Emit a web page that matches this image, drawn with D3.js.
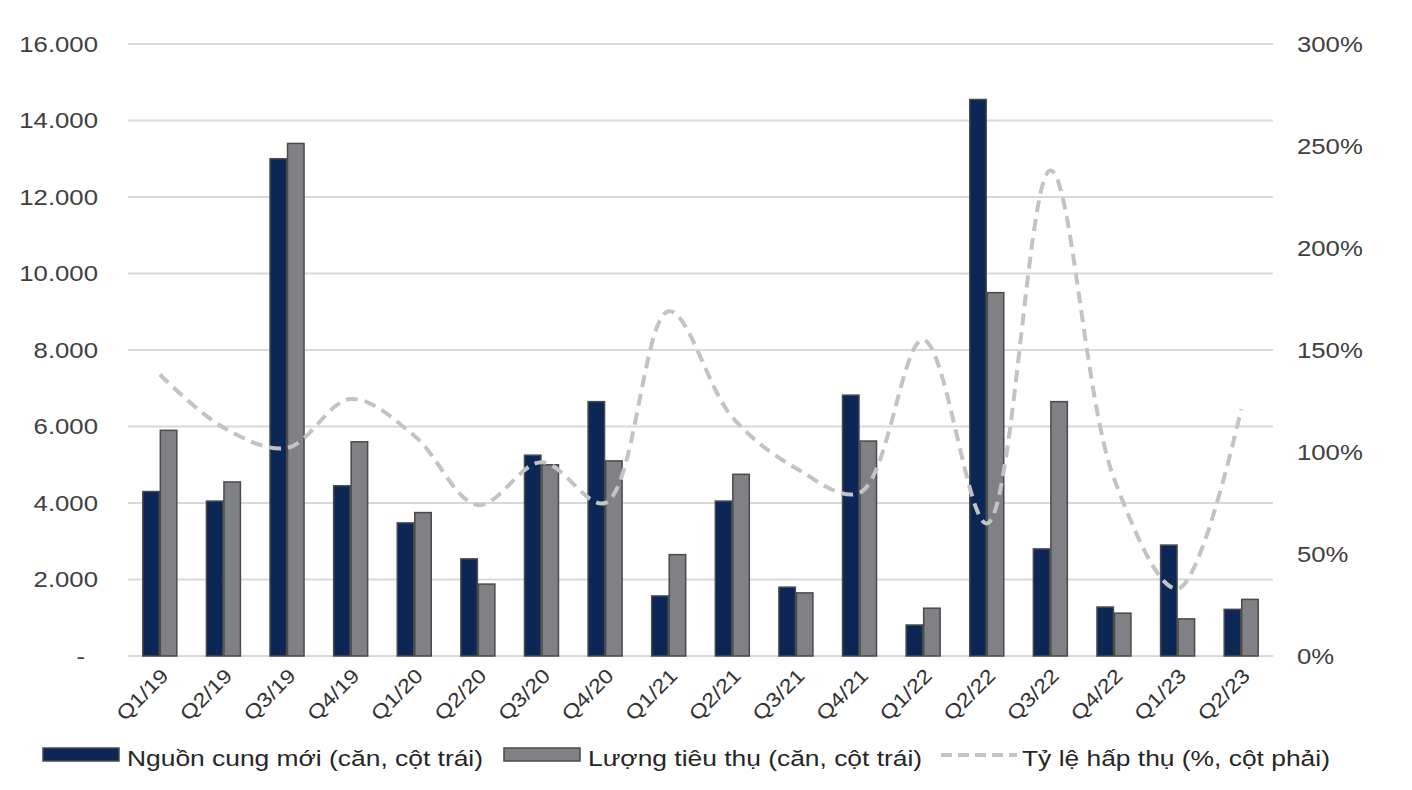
<!DOCTYPE html>
<html><head><meta charset="utf-8">
<script src="https://cdn.jsdelivr.net/npm/d3@7"></script>
<style>body{margin:0;background:#fff}svg{display:block;font-family:"Liberation Sans",Arial,sans-serif}</style>
</head><body><svg id="c" width="1412" height="790"></svg>
<script>
const categories = ["Q1/19","Q2/19","Q3/19","Q4/19","Q1/20","Q2/20","Q3/20","Q4/20","Q1/21","Q2/21","Q3/21","Q4/21","Q1/22","Q2/22","Q3/22","Q4/22","Q1/23","Q2/23"];
const supply = [4300,4050,13000,4450,3480,2540,5250,6650,1570,4050,1800,6820,810,14550,2800,1280,2900,1220];
const sales  = [5900,4550,13400,5600,3750,1880,5000,5100,2650,4750,1650,5620,1250,9500,6650,1120,970,1480];
const ratio  = [138,112,102,126,108,74,95,75,169,117,92,80,155,65,238,87,33,121];
const leftTicks = [0,2000,4000,6000,8000,10000,12000,14000,16000];
const rightTicks = [0,50,100,150,200,250,300];
const seriesNames = ["Nguồn cung mới (căn, cột trái)","Lượng tiêu thụ (căn, cột trái)","Tỷ lệ hấp thụ (%, cột phải)"];

const SX = 1.17; // horizontal stretch of the reference's text
const SXL = 1.2;
const svg = d3.select("#c");
const L=128,R=1273,T=44,B=656;
const x = d3.scaleBand().domain(categories).range([L,R]);
const yL = d3.scaleLinear().domain([0,16000]).range([B,T]);
const yR = d3.scaleLinear().domain([0,300]).range([B,T]);
const xs = d3.scaleBand().domain(["s","t"]).range([-17,17]).paddingInner(0.06);
const cx = c => x(c)+x.bandwidth()/2;

// gridlines
svg.append("g").selectAll("line").data(leftTicks).join("line")
  .attr("x1",L).attr("x2",R).attr("y1",d=>yL(d)).attr("y2",d=>yL(d))
  .attr("stroke","#d9d9d9").attr("stroke-width",2);

// left axis labels
const fmt = d => d===0 ? "-" : d3.format(",")(d).replace(/,/g,".");
svg.append("g").selectAll("text").data(leftTicks).join("text")
  .attr("transform",d=>`translate(${d===0?85:98},${yL(d)}) scale(${SX},1)`).attr("dy","0.35em")
  .attr("text-anchor","end").attr("font-size",22).attr("fill","#404040").text(fmt);
// right axis labels
svg.append("g").selectAll("text").data(rightTicks).join("text")
  .attr("transform",d=>`translate(1297,${yR(d)}) scale(${SX},1)`).attr("dy","0.35em")
  .attr("text-anchor","start").attr("font-size",22).attr("fill","#404040").text(d=>d+"%");

// bars
const g = svg.append("g");
g.selectAll("rect.s").data(categories).join("rect").attr("class","s")
  .attr("x",(c)=>cx(c)+xs("s")).attr("width",xs.bandwidth())
  .attr("y",(c,i)=>yL(supply[i])).attr("height",(c,i)=>B-yL(supply[i]))
  .attr("fill","#0c2656").attr("stroke","#4a4a4a").attr("stroke-width",1.5);
g.selectAll("rect.t").data(categories).join("rect").attr("class","t")
  .attr("x",(c)=>cx(c)+xs("t")).attr("width",xs.bandwidth())
  .attr("y",(c,i)=>yL(sales[i])).attr("height",(c,i)=>B-yL(sales[i]))
  .attr("fill","#808184").attr("stroke","#4a4a4a").attr("stroke-width",1.5);

// line
const line = d3.line().x((d,i)=>cx(categories[i])).y(d=>yR(d)).curve(d3.curveCatmullRom.alpha(0.5));
svg.append("path").datum(ratio).attr("d",line).attr("fill","none")
  .attr("stroke","#c3c3c3").attr("stroke-width",4).attr("stroke-dasharray","12,7");

// x labels
svg.append("g").selectAll("text").data(categories).join("text")
  .attr("transform",c=>`translate(${cx(c)+5},${B+16}) rotate(-45) scale(${SX},1)`)
  .attr("text-anchor","end").attr("dy","0.35em").attr("font-size",20).attr("fill","#333").text(c=>c);

// legend
const lg = svg.append("g").attr("font-size",22).attr("fill","#262626");
const ly = 758;
lg.append("rect").attr("x",43).attr("y",748).attr("width",76).attr("height",13).attr("fill","#0c2656").attr("stroke","#4a4a4a").attr("stroke-width",1.5);
lg.append("text").attr("transform",`translate(127,${ly}) scale(${SXL},1)`).attr("dy","0.35em").text(seriesNames[0]);
lg.append("rect").attr("x",504).attr("y",748).attr("width",76).attr("height",13).attr("fill","#808184").attr("stroke","#4a4a4a").attr("stroke-width",1.5);
lg.append("text").attr("transform",`translate(588,${ly}) scale(${SXL},1)`).attr("dy","0.35em").text(seriesNames[1]);
lg.append("line").attr("x1",941).attr("x2",1017).attr("y1",755).attr("y2",755).attr("stroke","#c3c3c3").attr("stroke-width",4).attr("stroke-dasharray","11,6");
lg.append("text").attr("transform",`translate(1022,${ly}) scale(${SXL},1)`).attr("dy","0.35em").text(seriesNames[2]);
</script></body></html>
